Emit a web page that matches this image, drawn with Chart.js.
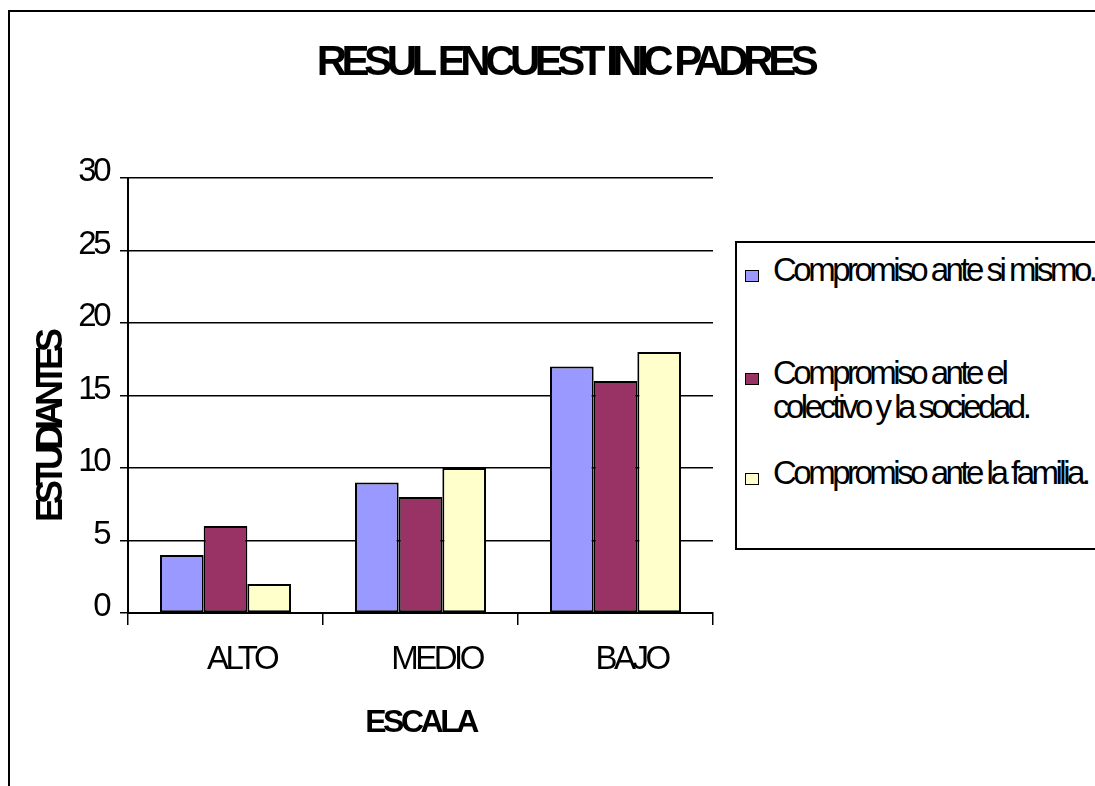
<!DOCTYPE html>
<html>
<head>
<meta charset="utf-8">
<script src="https://cdn.jsdelivr.net/npm/chart.js@4"></script>
<style>
  html, body { margin: 0; padding: 0; background: #fff; overflow: hidden; }
  #wrap { position: relative; width: 1095px; height: 786px; overflow: hidden; font-family: "Liberation Sans", Arial, sans-serif; }
  #frame { position: absolute; left: 8px; top: 10px; width: 1200px; height: 1000px; border: 2px solid #000; }
  #chart { position: absolute; left: 0; top: 0; }
  #legend { position: absolute; left: 735px; top: 241px; width: 500px; height: 305px; border: 2px solid #000; background: #fff; }
  .sw { position: absolute; left: 8px; width: 12px; height: 10px; border: 1.5px solid #000; }
  .lt { position: absolute; left: 36px; font-size: 33px; letter-spacing: -3.5px; line-height: 34px; white-space: nowrap; color: #000; }
</style>
</head>
<body>
<div id="wrap">
  <div id="frame"></div>
  <canvas id="chart" width="1095" height="786"></canvas>
  <div id="legend"></div>
</div>
<script>
// data
const chartTitle = "RESUL ENCUEST INIC PADRES";
const xTitle = "ESCALA";
const yTitle = "ESTUDIANTES";
const categories = ["ALTO", "MEDIO", "BAJO"];
const seriesNames = [
  "Compromiso ante si mismo.",
  ["Compromiso ante el", "colectivo y la sociedad."],
  "Compromiso ante la familia."
];
const siMismo = [4, 9, 17];
const colectivo = [6, 8, 16];
const familia = [2, 10, 18];
const yTicks = [0, 5, 10, 15, 20, 25, 30];
const colors = ["#9999FF", "#993366", "#FFFFCC"];

const FONT = '"Liberation Sans", Arial, sans-serif';
Chart.defaults.font.family = FONT;
Chart.defaults.color = "#000";

// excel-ish tight text + title drawn at fixed spots
const tightText = {
  id: "tightText",
  beforeUpdate(chart) { chart.ctx.letterSpacing = "-3.5px"; },
  beforeDraw(chart) { chart.ctx.letterSpacing = "-3.5px"; },
  afterDraw(chart) {
    const ctx = chart.ctx;
    ctx.save();
    ctx.fillStyle = "#000";
    ctx.letterSpacing = "-5.5px";
    ctx.font = "bold 42px " + FONT;
    ctx.textAlign = "center";
    ctx.textBaseline = "alphabetic";
    ctx.fillText(chartTitle, 565, 75);

    ctx.translate(52, 428);
    ctx.rotate(-Math.PI / 2);
    ctx.letterSpacing = "-6px";
    ctx.font = "bold 36px " + FONT;
    ctx.textBaseline = "middle";
    ctx.fillText(yTitle, 0, 0);
    ctx.restore();
  }
};

const data = [siMismo, colectivo, familia];

new Chart(document.getElementById("chart"), {
  type: "bar",
  data: {
    labels: categories,
    datasets: data.map((vals, i) => ({
      label: seriesNames[i],
      data: vals,
      backgroundColor: colors[i],
      borderColor: "#000",
      borderWidth: 2,
      borderSkipped: false,
      categoryPercentage: 0.672,
      barPercentage: 1.0
    }))
  },
  options: {
    responsive: false,
    animation: false,
    devicePixelRatio: 1,
    layout: { padding: { left: 0, top: 178, right: 382, bottom: 0 } },
    plugins: {
      legend: { display: false },
      title: { display: false },
      tooltip: { enabled: false }
    },
    scales: {
      x: {
        afterFit(s) { s.height = 173; },
        grid: { drawOnChartArea: false, color: "#000", lineWidth: 1.5, tickLength: 12 },
        border: { color: "#000", width: 2 },
        ticks: { font: { size: 33 }, padding: 15, labelOffset: 16 },
        title: {
          display: true,
          text: xTitle,
          font: { size: 32, weight: "bold" },
          padding: { top: 0, bottom: 44 }
        }
      },
      y: {
        min: 0,
        max: 30,
        afterFit(s) { s.width = 128; },
        afterBuildTicks(s) { s.ticks = yTicks.map(v => ({ value: v })); },
        grid: { color: "#000", lineWidth: 1.5, tickLength: 8 },
        border: { color: "#000", width: 2 },
        ticks: { font: { size: 33 }, padding: 12, labelOffset: -6 }
      }
    }
  },
  plugins: [tightText]
});

// legend box, built from the same names/colours
const legendTops = [27, 130, 230];
const legendEl = document.getElementById("legend");
seriesNames.forEach((name, i) => {
  const sw = document.createElement("div");
  sw.className = "sw";
  sw.style.top = legendTops[i] + "px";
  sw.style.background = colors[i];
  legendEl.appendChild(sw);
  const t = document.createElement("div");
  t.className = "lt";
  t.style.top = (legendTops[i] - 17.4) + "px";
  t.innerHTML = [].concat(name).join("<br>");
  legendEl.appendChild(t);
});
</script>
</body>
</html>
